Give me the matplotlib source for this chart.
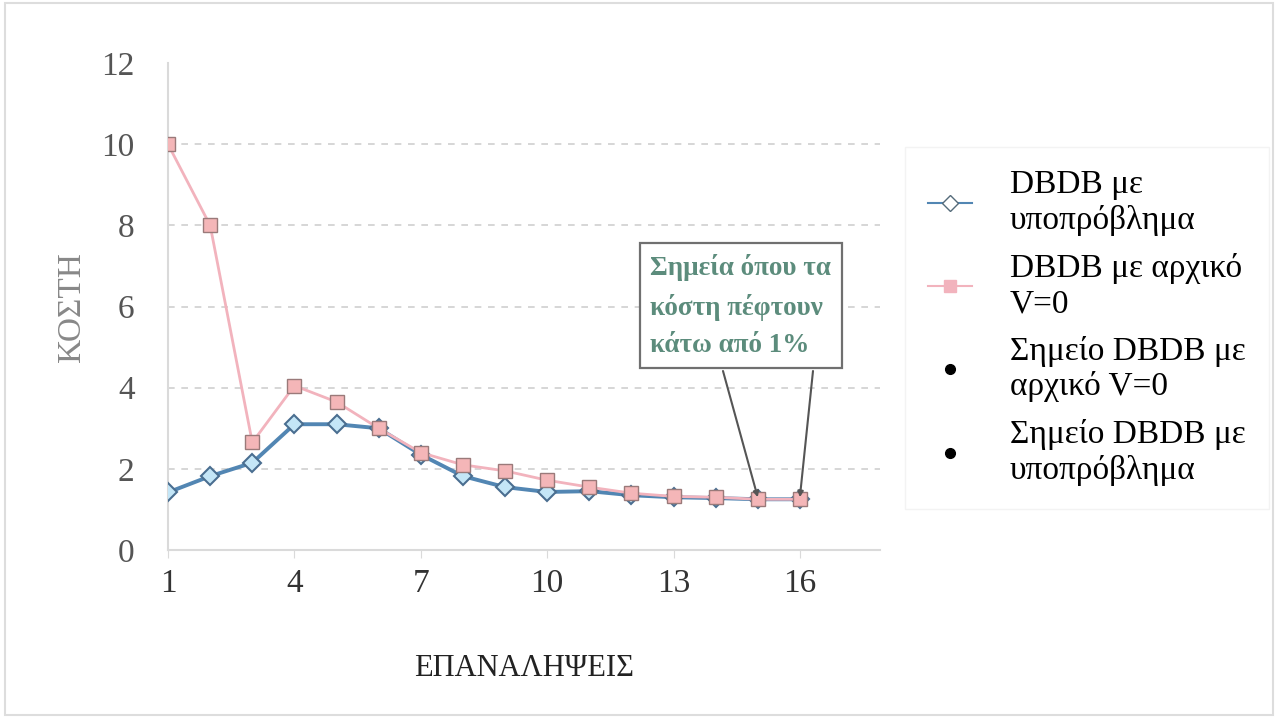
import matplotlib
matplotlib.use("Agg")
import matplotlib.pyplot as plt
from matplotlib.lines import Line2D

plt.rcParams['font.family'] = ['Liberation Serif', 'DejaVu Serif']

iterations = list(range(1, 17))
cost_subproblem = [1.42, 1.82, 2.15, 3.1, 3.1, 3.0, 2.35, 1.82, 1.55, 1.43, 1.45, 1.35, 1.3, 1.28, 1.25, 1.25]
cost_v0 = [10.0, 8.0, 2.65, 4.05, 3.65, 3.0, 2.4, 2.1, 1.95, 1.72, 1.55, 1.4, 1.32, 1.3, 1.25, 1.25]
point_v0 = ([15], [1.25])
point_sub = ([16], [1.25])
x_ticks = [1, 4, 7, 10, 13, 16]
y_ticks = [0, 2, 4, 6, 8, 10, 12]

labels = ["DBDB με\nυποπρόβλημα", "DBDB με αρχικό\nV=0",
          "Σημείο DBDB με\nαρχικό V=0", "Σημείο DBDB με\nυποπρόβλημα"]
note = "Σημεία όπου τα\nκόστη πέφτουν\nκάτω από 1%"

fig = plt.figure(figsize=(12.78, 7.18), dpi=100)
ax = fig.add_axes([0.1315, 0.234, 0.557, 0.678])

blue = '#5286b3'
pink = '#f2b3bd'

ax.plot(point_v0[0], point_v0[1], 'o', color='black', ms=5, zorder=1)
ax.plot(point_sub[0], point_sub[1], 'o', color='black', ms=5, zorder=1)
ax.plot(iterations, cost_subproblem, '-', color=blue, lw=2.8, marker='D', ms=9,
        mfc='#c4e6f7', mec='#4a6e90', mew=1.5, zorder=3)
ax.plot(iterations, cost_v0, '-', color=pink, lw=2.0, marker='s', ms=10,
        mfc='#f4b6b8', mec='#9a7a7a', mew=1.0, zorder=4)

ax.set_xlim(1, 17.9)
ax.set_ylim(0, 12)
ax.set_xticks(x_ticks)
ax.set_yticks(y_ticks)
for yv in y_ticks[1:-1]:
    ax.axhline(yv, color='#cfcfcf', lw=1.2, ls=(0, (4, 4)), zorder=0)

for s in ['top', 'right']:
    ax.spines[s].set_visible(False)
ax.spines['left'].set_color('#dadada')
ax.spines['bottom'].set_color('#dadada')
ax.spines['left'].set_linewidth(1.5)
ax.spines['bottom'].set_linewidth(1.5)
ax.tick_params(axis='y', length=0, pad=24, labelsize=24, labelcolor='#555555')
ax.tick_params(axis='x', length=6, color='#dadada', pad=7, labelsize=24, labelcolor='#333333')

ax.set_ylabel("ΚΟΣΤΗ", fontsize=24, color='#888888', labelpad=10)
ax.set_xlabel("ΕΠΑΝΑΛΗΨΕΙΣ", fontsize=22, color='#222222', labelpad=40)

ax.text(12.45, 7.3, note, ha='left', va='top', fontsize=19.5, fontweight='bold',
        color='#5c8c7c', linespacing=1.62,
        bbox=dict(boxstyle='square,pad=0.4', fc='white', ec='#707070', lw=1.6), zorder=6)

ax.annotate("", xy=(15, 1.3), xycoords='data', xytext=(723, 718 - 371),
            textcoords='figure pixels',
            arrowprops=dict(arrowstyle='-|>', color='#555555', lw=1.5, mutation_scale=8, shrinkA=0, shrinkB=0),
            zorder=7)
ax.annotate("", xy=(16, 1.3), xycoords='data', xytext=(813, 718 - 371),
            textcoords='figure pixels',
            arrowprops=dict(arrowstyle='-|>', color='#555555', lw=1.5, mutation_scale=8, shrinkA=0, shrinkB=0),
            zorder=7)

handles = [
    Line2D([], [], color=blue, lw=1.5, marker='D', ms=8, mfc='white', mec='#556b7a'),
    Line2D([], [], color=pink, lw=1.5, marker='s', ms=8, mfc=pink, mec=pink),
    Line2D([], [], ls='none', marker='o', color='black', ms=7),
    Line2D([], [], ls='none', marker='o', color='black', ms=7),
]
leg = fig.legend(handles, labels, loc='upper left', bbox_to_anchor=(0.716, 0.782),
                 fontsize=24, frameon=True, handlelength=1.3, handletextpad=1.15,
                 labelspacing=0.5, borderpad=0.4, borderaxespad=0)
for t in leg.get_texts():
    t.set_linespacing(1.2)
leg.get_frame().set_edgecolor('#f0f0f0')
leg.get_frame().set_linewidth(1.0)
leg.get_frame().set_boxstyle('square')

fig.patches.append(plt.Rectangle((0.004, 0.004), 0.992, 0.992, transform=fig.transFigure,
                                 fill=False, ec='#dddddd', lw=1.5))

fig.savefig("out.png", dpi=100)
